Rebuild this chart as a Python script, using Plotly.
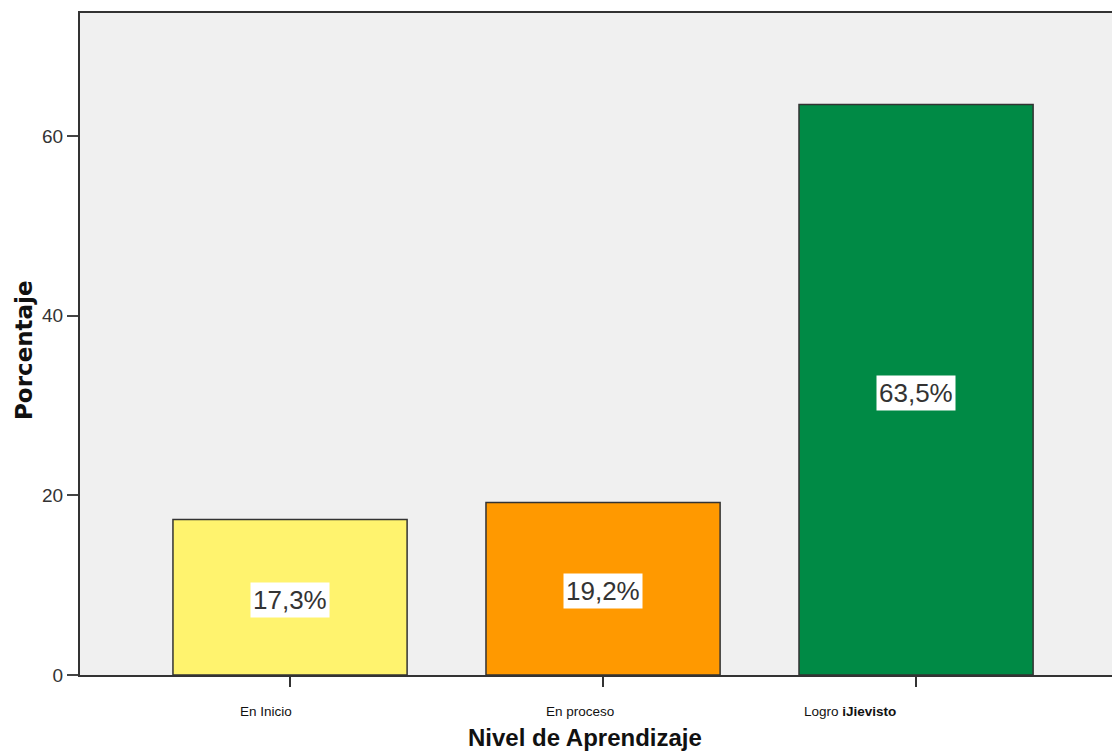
import plotly.graph_objects as go

categories = ["En Inicio", "En proceso", "Logro <b>iJievisto</b>"]
values = [17.3, 19.2, 63.5]
labels = ["17,3%", "19,2%", "63,5%"]
colors = ["#FFF36E", "#FF9900", "#008A45"]
y_ticks = [0, 20, 40, 60]
x_title = "Nivel de Aprendizaje"
y_title = "Porcentaje"

x_pos = list(range(len(categories)))
label_shift = [-24, -23, -66]

fig = go.Figure()
fig.add_trace(go.Bar(
    x=x_pos, y=values, width=0.748,
    marker=dict(color=colors, line=dict(color="#333333", width=1.5)),
    hoverinfo="skip",
))

for xi, v, lab in zip(x_pos, values, labels):
    fig.add_annotation(
        x=xi, y=v / 2 - 0.3, text=lab, showarrow=False,
        font=dict(family="Liberation Sans, Arial", size=26, color="#333333"),
        bgcolor="white", borderpad=2,
    )

for xi, cat, sh in zip(x_pos, categories, label_shift):
    fig.add_annotation(
        x=xi, xref="x", y=0, yref="paper", text=cat, showarrow=False,
        xshift=sh, yshift=-36, yanchor="middle",
        font=dict(family="Liberation Sans, Arial", size=13.5, color="#111111"),
    )

fig.add_annotation(
    x=0.489, xref="paper", y=0, yref="paper", text="<b>" + x_title + "</b>",
    showarrow=False, yanchor="middle", yshift=-62,
    font=dict(family="Liberation Sans, Arial", size=24, color="#111111"),
)
fig.add_annotation(
    x=0, xref="paper", y=0.5, yref="paper", text="<b>" + y_title + "</b>",
    showarrow=False, xanchor="center", yanchor="middle", xshift=-56, yshift=-6,
    textangle=-90,
    font=dict(family="DejaVu Sans", size=23, color="#111111"),
)

fig.update_layout(
    width=1112, height=751,
    margin=dict(l=80, r=0, t=13, b=76),
    paper_bgcolor="white", plot_bgcolor="#F0F0F0",
    showlegend=False,
    xaxis=dict(
        range=[-0.671, 2.626],
        tickmode="array", tickvals=x_pos, ticktext=["", "", ""],
        ticks="outside", ticklen=10, tickwidth=2, tickcolor="#333333",
        showline=True, linecolor="#333333", linewidth=2, mirror=True,
        showgrid=False, zeroline=False,
    ),
    yaxis=dict(
        range=[0, 73.7],
        tickmode="array", tickvals=y_ticks,
        ticks="outside", ticklen=11, tickwidth=2, tickcolor="#444444",
        showline=True, linecolor="#333333", linewidth=2,
        showgrid=False, zeroline=False,
        tickfont=dict(family="Liberation Sans, Arial", size=19, color="#333333"),
    ),
)

fig.write_html("out.html")
